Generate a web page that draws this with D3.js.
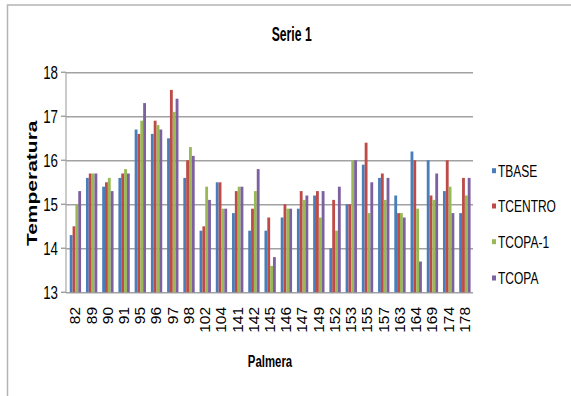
<!DOCTYPE html>
<html>
<head>
<meta charset="utf-8">
<script src="https://cdn.jsdelivr.net/npm/d3@7/dist/d3.min.js"></script>
<style>
    html, body { margin: 0; padding: 0; background: #fff; }
    svg { display: block; }
    text { font-family: "Liberation Sans", Arial, sans-serif; fill: #000; }
</style>
</head>
<body>
<div id="chart"></div>
<script>
(function (window, document) {
    "use strict";

    var cPalmeras = ["82", "89", "90", "91", "95", "96", "97", "98", "102", "104", "141", "142",
        "145", "146", "147", "149", "152", "153", "155", "157", "163", "164", "169", "174", "178"];
    var cSeries = ["TBASE", "TCENTRO", "TCOPA-1", "TCOPA"];
    var cTBase = [14.3, 15.6, 15.4, 15.6, 16.7, 16.6, 16.5, 15.6, 14.4, 15.5, 14.8, 14.4,
        14.4, 14.7, 14.9, 15.2, 14.0, 15.0, 15.9, 15.6, 15.2, 16.2, 16.0, 15.3, 14.8];
    var cTCentro = [14.5, 15.7, 15.5, 15.7, 16.6, 16.9, 17.6, 16.0, 14.5, 15.5, 15.3, 14.9,
        14.7, 15.0, 15.3, 15.3, 15.1, 15.0, 16.4, 15.7, 14.8, 16.0, 15.2, 16.0, 15.6];
    var cTCopa1 = [15.0, 15.7, 15.6, 15.8, 16.9, 16.8, 17.1, 16.3, 15.4, 14.9, 15.4, 15.3,
        13.6, 14.9, 15.1, 14.7, 14.4, 16.0, 14.8, 15.1, 14.8, 14.9, 15.1, 15.4, 15.2];
    var cTCopa = [15.3, 15.7, 15.3, 15.7, 17.3, 16.7, 17.4, 16.1, 15.1, 14.9, 15.4, 15.8,
        13.8, 14.9, 15.2, 15.3, 15.4, 16.0, 15.5, 15.6, 14.7, 13.7, 15.7, 14.8, 15.6];
    var cYTicks = [13, 14, 15, 16, 17, 18];
    var cColors = ["#4a7ebb", "#be4b48", "#98b954", "#7d60a0"];

    var vValues = [cTBase, cTCentro, cTCopa1, cTCopa];

    // plot area, in page pixels
    var vPlot = { mLeft: 66, mRight: 473, mTop: 72.3, mBottom: 292.3 };

    var svg = d3.select("#chart")
        .append("svg")
        .attr("width", 571)
        .attr("height", 396);

    // outer frame (only left and top edges show)
    svg.append("path")
        .attr("d", "M7.5,396V5H571")
        .attr("fill", "none")
        .attr("stroke", "#b4b4b4")
        .attr("stroke-width", 1.5);

    var vX0 = d3.scaleBand()
        .domain(cPalmeras)
        .range([67.3, vPlot.mRight])
        .paddingInner(0.3)
        .paddingOuter(0.15);
    var vX1 = d3.scaleBand()
        .domain(cSeries)
        .range([0, vX0.bandwidth()]);
    var vY = d3.scaleLinear()
        .domain([13, 18])
        .range([vPlot.mBottom, vPlot.mTop]);

    // gridlines
    svg.append("g")
        .attr("transform", "translate(" + vPlot.mLeft + ",0)")
        .call(d3.axisLeft(vY).tickValues(cYTicks)
            .tickSize(-(vPlot.mRight - vPlot.mLeft)).tickFormat(""))
        .call(function (g) {
            g.select(".domain").remove();
            g.selectAll("line").attr("stroke", "#a2a2a2").attr("stroke-width", 1.5);
        });

    // y axis line and tick marks
    svg.append("line")
        .attr("x1", vPlot.mLeft).attr("x2", vPlot.mLeft)
        .attr("y1", vPlot.mTop).attr("y2", vPlot.mBottom)
        .attr("stroke", "#a8a8a8").attr("stroke-width", 1.2);
    svg.selectAll(".ytick")
        .data(cYTicks)
        .enter()
        .append("line")
            .attr("x1", vPlot.mLeft - 5).attr("x2", vPlot.mLeft)
            .attr("y1", function (aItem) { return vY(aItem); })
            .attr("y2", function (aItem) { return vY(aItem); })
            .attr("stroke", "#a2a2a2").attr("stroke-width", 1.5);

    // y tick labels (narrowed glyphs)
    svg.selectAll(".ylabel")
        .data(cYTicks)
        .enter()
        .append("text")
            .attr("transform", function (aItem) {
                return "translate(58," + (vY(aItem) + 6.5) + ") scale(0.72,1)";
            })
            .attr("text-anchor", "end")
            .style("font-size", "18.5px")
            .text(function (aItem) { return aItem; });

    // bars
    var vGroups = svg.selectAll(".group")
        .data(cPalmeras)
        .enter()
        .append("g")
            .attr("transform", function (aItem) {
                return "translate(" + vX0(aItem) + ",0)";
            });
    vGroups.selectAll("rect")
        .data(function (aItem, aIndex) {
            return cSeries.map(function (aSerie, aS) {
                return { mSerie: aSerie, mValue: vValues[aS][aIndex], mColor: cColors[aS] };
            });
        })
        .enter()
        .append("rect")
            .attr("x", function (aItem) { return vX1(aItem.mSerie); })
            .attr("y", function (aItem) { return vY(aItem.mValue); })
            .attr("width", vX1.bandwidth())
            .attr("height", function (aItem) { return vPlot.mBottom - vY(aItem.mValue); })
            .attr("fill", function (aItem) { return aItem.mColor; });

    // x tick labels, rotated
    svg.selectAll(".xlabel")
        .data(cPalmeras)
        .enter()
        .append("text")
            .attr("transform", function (aItem) {
                return "translate(" + (vX0(aItem) + vX0.bandwidth() / 2) + ",307) scale(0.9,1) rotate(-90)";
            })
            .attr("text-anchor", "end")
            .attr("dy", "0.35em")
            .style("font-size", "15.5px")
            .text(function (aItem) { return aItem; });

    // titles
    svg.append("text")
        .attr("transform", "translate(291.7,40.7) scale(0.61,1)")
        .attr("text-anchor", "middle")
        .style("font-size", "20px")
        .style("font-weight", "bold")
        .text("Serie 1");
    svg.append("text")
        .attr("transform", "translate(270,367) scale(0.67,1)")
        .attr("text-anchor", "middle")
        .style("font-size", "17px")
        .style("font-weight", "bold")
        .text("Palmera");
    svg.append("text")
        .attr("transform", "translate(37,183.3) scale(0.68,1) rotate(-90)")
        .attr("text-anchor", "middle")
        .style("font-size", "21px")
        .style("font-weight", "bold")
        .text("Temperatura");

    // legend
    var vLegendY = [170.7, 206, 241.7, 278];
    var vLegend = svg.selectAll(".legend")
        .data(cSeries)
        .enter()
        .append("g")
            .attr("transform", function (aItem, aIndex) {
                return "translate(492," + vLegendY[aIndex] + ")";
            });
    vLegend.append("rect")
        .attr("x", 0).attr("y", -2.5)
        .attr("width", 4).attr("height", 5)
        .attr("fill", function (aItem, aIndex) { return cColors[aIndex]; });
    vLegend.append("text")
        .attr("transform", "translate(6,5.8) scale(0.75,1)")
        .style("font-size", "16px")
        .text(function (aItem) { return aItem; });

})(window, document);
</script>
</body>
</html>
